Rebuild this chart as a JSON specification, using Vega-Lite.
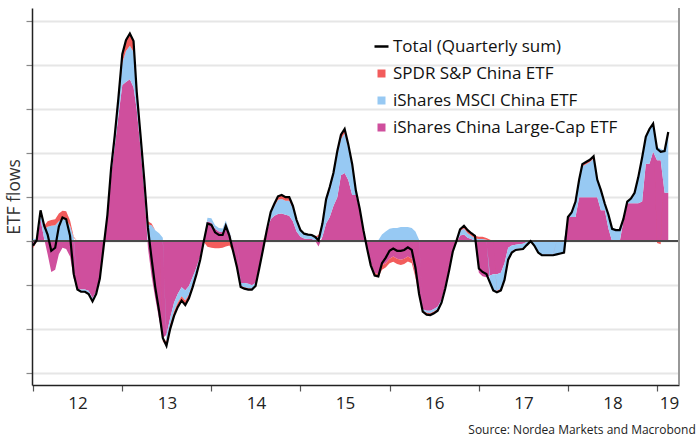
{
  "$schema": "https://vega.github.io/schema/vega-lite/v6.json",
  "width": 647,
  "height": 377,
  "autosize": {"type": "none"},
  "padding": {"left": 32, "top": 8, "right": 19, "bottom": 59},
  "background": "white",
  "config": {"view": {"stroke": null}, "font": "Open Sans"},
  "title": {"text": "Source: Nordea Markets and Macrobond", "orient": "bottom", "anchor": "end", "font": "Open Sans", "fontSize": 12, "fontWeight": "normal", "color": "#222", "offset": 14, "dx": 16},
  "datasets": {
    "flows": [
      {"d": "2012-01-01", "tot": -0.1, "lc": -0.12, "ms": 0.06, "sp": -0.04},
      {"d": "2012-01-16", "tot": 0.02, "lc": 0.0, "ms": 0.04, "sp": -0.02},
      {"d": "2012-02-01", "tot": 0.7, "lc": 0.5, "ms": 0.15, "sp": 0.05},
      {"d": "2012-02-16", "tot": 0.35, "lc": 0.05, "ms": 0.22, "sp": 0.08},
      {"d": "2012-03-01", "tot": 0.15, "lc": -0.3, "ms": 0.33, "sp": 0.12},
      {"d": "2012-03-16", "tot": -0.22, "lc": -0.7, "ms": 0.35, "sp": 0.13},
      {"d": "2012-04-01", "tot": -0.15, "lc": -0.65, "ms": 0.36, "sp": 0.14},
      {"d": "2012-04-16", "tot": 0.33, "lc": -0.3, "ms": 0.45, "sp": 0.18},
      {"d": "2012-05-01", "tot": 0.54, "lc": -0.15, "ms": 0.5, "sp": 0.19},
      {"d": "2012-05-16", "tot": 0.5, "lc": -0.18, "ms": 0.5, "sp": 0.18},
      {"d": "2012-06-01", "tot": 0.12, "lc": -0.35, "ms": 0.35, "sp": 0.12},
      {"d": "2012-06-16", "tot": -0.75, "lc": -0.85, "ms": 0.08, "sp": 0.02},
      {"d": "2012-07-01", "tot": -1.1, "lc": -1.08, "ms": -0.02, "sp": 0},
      {"d": "2012-07-16", "tot": -1.15, "lc": -1.1, "ms": -0.04, "sp": -0.01},
      {"d": "2012-08-01", "tot": -1.15, "lc": -1.1, "ms": -0.04, "sp": -0.01},
      {"d": "2012-08-16", "tot": -1.2, "lc": -1.13, "ms": -0.05, "sp": -0.02},
      {"d": "2012-09-01", "tot": -1.37, "lc": -1.3, "ms": -0.05, "sp": -0.02},
      {"d": "2012-09-16", "tot": -1.2, "lc": -1.15, "ms": -0.04, "sp": -0.01},
      {"d": "2012-10-01", "tot": -0.85, "lc": -0.82, "ms": -0.03, "sp": 0},
      {"d": "2012-10-16", "tot": -0.15, "lc": -0.13, "ms": -0.02, "sp": 0},
      {"d": "2012-11-01", "tot": 0.6, "lc": 0.55, "ms": 0.04, "sp": 0.01},
      {"d": "2012-11-16", "tot": 1.65, "lc": 1.5, "ms": 0.12, "sp": 0.03},
      {"d": "2012-12-01", "tot": 2.4, "lc": 2.15, "ms": 0.2, "sp": 0.05},
      {"d": "2012-12-16", "tot": 3.25, "lc": 2.85, "ms": 0.3, "sp": 0.1},
      {"d": "2013-01-01", "tot": 4.25, "lc": 3.55, "ms": 0.5, "sp": 0.2},
      {"d": "2013-01-16", "tot": 4.57, "lc": 3.62, "ms": 0.7, "sp": 0.25},
      {"d": "2013-02-01", "tot": 4.72, "lc": 3.68, "ms": 0.76, "sp": 0.28},
      {"d": "2013-02-16", "tot": 4.55, "lc": 3.5, "ms": 0.8, "sp": 0.25},
      {"d": "2013-03-01", "tot": 3.4, "lc": 3.0, "ms": 0.32, "sp": 0.08},
      {"d": "2013-03-16", "tot": 2.45, "lc": 2.15, "ms": 0.25, "sp": 0.05},
      {"d": "2013-04-01", "tot": 1.4, "lc": 1.15, "ms": 0.22, "sp": 0.03},
      {"d": "2013-04-16", "tot": 0.3, "lc": -0.15, "ms": 0.38, "sp": 0.07},
      {"d": "2013-05-01", "tot": -0.4, "lc": -0.8, "ms": 0.36, "sp": 0.04},
      {"d": "2013-05-16", "tot": -1.05, "lc": -1.3, "ms": 0.25, "sp": 0},
      {"d": "2013-06-01", "tot": -1.6, "lc": -1.78, "ms": 0.18, "sp": 0},
      {"d": "2013-06-16", "tot": -2.2, "lc": -2.2, "ms": 0.08, "sp": -0.08},
      {"d": "2013-07-01", "tot": -2.38, "lc": -2.13, "ms": -0.15, "sp": -0.1},
      {"d": "2013-07-16", "tot": -2.0, "lc": -1.75, "ms": -0.15, "sp": -0.1},
      {"d": "2013-08-01", "tot": -1.7, "lc": -1.4, "ms": -0.2, "sp": -0.1},
      {"d": "2013-08-16", "tot": -1.5, "lc": -1.2, "ms": -0.2, "sp": -0.1},
      {"d": "2013-09-01", "tot": -1.35, "lc": -1.05, "ms": -0.2, "sp": -0.1},
      {"d": "2013-09-16", "tot": -1.45, "lc": -1.12, "ms": -0.23, "sp": -0.1},
      {"d": "2013-10-01", "tot": -1.3, "lc": -1.02, "ms": -0.2, "sp": -0.08},
      {"d": "2013-10-16", "tot": -1.05, "lc": -0.82, "ms": -0.16, "sp": -0.07},
      {"d": "2013-11-01", "tot": -0.75, "lc": -0.6, "ms": -0.1, "sp": -0.05},
      {"d": "2013-11-16", "tot": -0.43, "lc": -0.35, "ms": -0.05, "sp": -0.03},
      {"d": "2013-12-01", "tot": 0.0, "lc": 0.02, "ms": 0.0, "sp": -0.02},
      {"d": "2013-12-16", "tot": 0.4, "lc": 0.45, "ms": 0.08, "sp": -0.13},
      {"d": "2014-01-01", "tot": 0.37, "lc": 0.42, "ms": 0.1, "sp": -0.15},
      {"d": "2014-01-16", "tot": 0.2, "lc": 0.28, "ms": 0.08, "sp": -0.16},
      {"d": "2014-02-01", "tot": 0.14, "lc": 0.22, "ms": 0.08, "sp": -0.16},
      {"d": "2014-02-16", "tot": 0.14, "lc": 0.2, "ms": 0.09, "sp": -0.15},
      {"d": "2014-03-01", "tot": 0.35, "lc": 0.4, "ms": 0.07, "sp": -0.12},
      {"d": "2014-03-16", "tot": 0.12, "lc": 0.2, "ms": 0.02, "sp": -0.1},
      {"d": "2014-04-01", "tot": -0.25, "lc": -0.2, "ms": 0, "sp": -0.05},
      {"d": "2014-04-16", "tot": -0.6, "lc": -0.58, "ms": 0, "sp": -0.02},
      {"d": "2014-05-01", "tot": -1.04, "lc": -0.95, "ms": -0.07, "sp": -0.02},
      {"d": "2014-05-16", "tot": -1.08, "lc": -0.95, "ms": -0.1, "sp": -0.03},
      {"d": "2014-06-01", "tot": -1.1, "lc": -0.97, "ms": -0.1, "sp": -0.03},
      {"d": "2014-06-16", "tot": -1.1, "lc": -1.0, "ms": -0.08, "sp": -0.02},
      {"d": "2014-07-01", "tot": -1.02, "lc": -0.95, "ms": -0.05, "sp": -0.02},
      {"d": "2014-07-16", "tot": -0.62, "lc": -0.6, "ms": -0.02, "sp": 0},
      {"d": "2014-08-01", "tot": -0.18, "lc": -0.2, "ms": 0, "sp": 0.02},
      {"d": "2014-08-16", "tot": 0.25, "lc": 0.22, "ms": 0.03, "sp": 0.0},
      {"d": "2014-09-01", "tot": 0.66, "lc": 0.5, "ms": 0.13, "sp": 0.03},
      {"d": "2014-09-16", "tot": 0.85, "lc": 0.58, "ms": 0.22, "sp": 0.05},
      {"d": "2014-10-01", "tot": 1.02, "lc": 0.62, "ms": 0.32, "sp": 0.08},
      {"d": "2014-10-16", "tot": 1.05, "lc": 0.63, "ms": 0.33, "sp": 0.09},
      {"d": "2014-11-01", "tot": 1.0, "lc": 0.6, "ms": 0.32, "sp": 0.08},
      {"d": "2014-11-16", "tot": 1.0, "lc": 0.58, "ms": 0.34, "sp": 0.08},
      {"d": "2014-12-01", "tot": 0.8, "lc": 0.45, "ms": 0.3, "sp": 0.05},
      {"d": "2014-12-16", "tot": 0.48, "lc": 0.22, "ms": 0.23, "sp": 0.03},
      {"d": "2015-01-01", "tot": 0.25, "lc": 0.1, "ms": 0.13, "sp": 0.02},
      {"d": "2015-01-16", "tot": 0.17, "lc": 0.06, "ms": 0.1, "sp": 0.01},
      {"d": "2015-02-01", "tot": 0.15, "lc": 0.05, "ms": 0.09, "sp": 0.01},
      {"d": "2015-02-16", "tot": 0.14, "lc": 0.05, "ms": 0.08, "sp": 0.01},
      {"d": "2015-03-01", "tot": 0.1, "lc": 0.02, "ms": 0.07, "sp": 0.01},
      {"d": "2015-03-16", "tot": 0.02, "lc": -0.12, "ms": 0.1, "sp": 0.04},
      {"d": "2015-04-01", "tot": 0.4, "lc": 0.1, "ms": 0.25, "sp": 0.05},
      {"d": "2015-04-16", "tot": 0.95, "lc": 0.4, "ms": 0.5, "sp": 0.05},
      {"d": "2015-05-01", "tot": 1.23, "lc": 0.55, "ms": 0.62, "sp": 0.06},
      {"d": "2015-05-16", "tot": 1.55, "lc": 0.8, "ms": 0.68, "sp": 0.07},
      {"d": "2015-06-01", "tot": 2.05, "lc": 1.0, "ms": 0.97, "sp": 0.08},
      {"d": "2015-06-16", "tot": 2.42, "lc": 1.5, "ms": 0.82, "sp": 0.1},
      {"d": "2015-07-01", "tot": 2.55, "lc": 1.55, "ms": 0.9, "sp": 0.1},
      {"d": "2015-07-16", "tot": 2.2, "lc": 1.39, "ms": 0.74, "sp": 0.07},
      {"d": "2015-08-01", "tot": 1.75, "lc": 1.05, "ms": 0.65, "sp": 0.05},
      {"d": "2015-08-16", "tot": 1.15, "lc": 1.05, "ms": 0.08, "sp": 0.02},
      {"d": "2015-09-01", "tot": 0.73, "lc": 0.7, "ms": 0.03, "sp": 0},
      {"d": "2015-09-16", "tot": 0.25, "lc": 0.25, "ms": 0, "sp": 0},
      {"d": "2015-10-01", "tot": -0.17, "lc": -0.15, "ms": 0, "sp": -0.02},
      {"d": "2015-10-16", "tot": -0.55, "lc": -0.5, "ms": 0, "sp": -0.05},
      {"d": "2015-11-01", "tot": -0.78, "lc": -0.72, "ms": 0, "sp": -0.06},
      {"d": "2015-11-16", "tot": -0.8, "lc": -0.75, "ms": 0.02, "sp": -0.07},
      {"d": "2015-12-01", "tot": -0.5, "lc": -0.55, "ms": 0.15, "sp": -0.1},
      {"d": "2015-12-16", "tot": -0.38, "lc": -0.5, "ms": 0.22, "sp": -0.1},
      {"d": "2016-01-01", "tot": -0.22, "lc": -0.4, "ms": 0.28, "sp": -0.1},
      {"d": "2016-01-16", "tot": -0.17, "lc": -0.35, "ms": 0.3, "sp": -0.12},
      {"d": "2016-02-01", "tot": -0.22, "lc": -0.4, "ms": 0.3, "sp": -0.12},
      {"d": "2016-02-16", "tot": -0.22, "lc": -0.42, "ms": 0.32, "sp": -0.12},
      {"d": "2016-03-01", "tot": -0.2, "lc": -0.4, "ms": 0.32, "sp": -0.12},
      {"d": "2016-03-16", "tot": -0.14, "lc": -0.35, "ms": 0.32, "sp": -0.11},
      {"d": "2016-04-01", "tot": -0.2, "lc": -0.4, "ms": 0.3, "sp": -0.1},
      {"d": "2016-04-16", "tot": -0.6, "lc": -0.75, "ms": 0.22, "sp": -0.07},
      {"d": "2016-05-01", "tot": -1.2, "lc": -1.2, "ms": 0.03, "sp": -0.03},
      {"d": "2016-05-16", "tot": -1.6, "lc": -1.55, "ms": -0.03, "sp": -0.02},
      {"d": "2016-06-01", "tot": -1.67, "lc": -1.58, "ms": -0.05, "sp": -0.04},
      {"d": "2016-06-16", "tot": -1.68, "lc": -1.58, "ms": -0.06, "sp": -0.04},
      {"d": "2016-07-01", "tot": -1.64, "lc": -1.54, "ms": -0.06, "sp": -0.04},
      {"d": "2016-07-16", "tot": -1.58, "lc": -1.49, "ms": -0.05, "sp": -0.04},
      {"d": "2016-08-01", "tot": -1.4, "lc": -1.33, "ms": -0.04, "sp": -0.03},
      {"d": "2016-08-16", "tot": -1.08, "lc": -1.03, "ms": -0.03, "sp": -0.02},
      {"d": "2016-09-01", "tot": -0.67, "lc": -0.64, "ms": -0.02, "sp": -0.01},
      {"d": "2016-09-16", "tot": -0.24, "lc": -0.23, "ms": 0, "sp": -0.01},
      {"d": "2016-10-01", "tot": 0.0, "lc": -0.05, "ms": 0.03, "sp": 0.02},
      {"d": "2016-10-16", "tot": 0.27, "lc": 0.13, "ms": 0.1, "sp": 0.04},
      {"d": "2016-11-01", "tot": 0.35, "lc": 0.15, "ms": 0.14, "sp": 0.06},
      {"d": "2016-11-16", "tot": 0.25, "lc": 0.08, "ms": 0.1, "sp": 0.07},
      {"d": "2016-12-01", "tot": 0.18, "lc": 0.05, "ms": 0.07, "sp": 0.06},
      {"d": "2016-12-16", "tot": 0.12, "lc": 0.01, "ms": 0.05, "sp": 0.06},
      {"d": "2017-01-01", "tot": -0.62, "lc": -0.72, "ms": 0.05, "sp": 0.05},
      {"d": "2017-01-16", "tot": -0.7, "lc": -0.8, "ms": 0.05, "sp": 0.05},
      {"d": "2017-02-01", "tot": -0.75, "lc": -0.82, "ms": 0.03, "sp": 0.04},
      {"d": "2017-02-16", "tot": -0.95, "lc": -0.78, "ms": -0.2, "sp": 0.03},
      {"d": "2017-03-01", "tot": -1.12, "lc": -0.75, "ms": -0.38, "sp": 0.01},
      {"d": "2017-03-16", "tot": -1.16, "lc": -0.75, "ms": -0.38, "sp": -0.03},
      {"d": "2017-04-01", "tot": -1.12, "lc": -0.72, "ms": -0.36, "sp": -0.04},
      {"d": "2017-04-16", "tot": -0.88, "lc": -0.5, "ms": -0.35, "sp": -0.03},
      {"d": "2017-05-01", "tot": -0.42, "lc": -0.15, "ms": -0.25, "sp": -0.02},
      {"d": "2017-05-16", "tot": -0.26, "lc": -0.1, "ms": -0.13, "sp": -0.03},
      {"d": "2017-06-01", "tot": -0.2, "lc": -0.08, "ms": -0.1, "sp": -0.02},
      {"d": "2017-06-16", "tot": -0.19, "lc": -0.07, "ms": -0.1, "sp": -0.02},
      {"d": "2017-07-01", "tot": -0.18, "lc": -0.06, "ms": -0.1, "sp": -0.02},
      {"d": "2017-07-16", "tot": -0.09, "lc": -0.02, "ms": -0.06, "sp": -0.01},
      {"d": "2017-08-01", "tot": 0.0, "lc": 0.0, "ms": 0.02, "sp": -0.02},
      {"d": "2017-08-16", "tot": -0.1, "lc": -0.02, "ms": -0.07, "sp": -0.01},
      {"d": "2017-09-01", "tot": -0.26, "lc": -0.02, "ms": -0.23, "sp": -0.01},
      {"d": "2017-09-16", "tot": -0.32, "lc": -0.01, "ms": -0.3, "sp": -0.01},
      {"d": "2017-10-01", "tot": -0.32, "lc": 0, "ms": -0.31, "sp": -0.01},
      {"d": "2017-10-16", "tot": -0.32, "lc": 0, "ms": -0.31, "sp": -0.01},
      {"d": "2017-11-01", "tot": -0.32, "lc": 0, "ms": -0.31, "sp": -0.01},
      {"d": "2017-11-16", "tot": -0.3, "lc": 0, "ms": -0.3, "sp": 0},
      {"d": "2017-12-01", "tot": -0.28, "lc": 0, "ms": -0.28, "sp": 0},
      {"d": "2017-12-16", "tot": -0.26, "lc": 0, "ms": -0.26, "sp": 0},
      {"d": "2018-01-01", "tot": 0.55, "lc": 0.55, "ms": 0, "sp": 0},
      {"d": "2018-01-16", "tot": 0.65, "lc": 0.55, "ms": 0.1, "sp": 0},
      {"d": "2018-02-01", "tot": 0.9, "lc": 0.55, "ms": 0.33, "sp": 0.02},
      {"d": "2018-02-16", "tot": 1.4, "lc": 1.0, "ms": 0.37, "sp": 0.03},
      {"d": "2018-03-01", "tot": 1.75, "lc": 1.0, "ms": 0.7, "sp": 0.05},
      {"d": "2018-03-16", "tot": 1.8, "lc": 1.0, "ms": 0.75, "sp": 0.05},
      {"d": "2018-04-01", "tot": 1.85, "lc": 1.0, "ms": 0.8, "sp": 0.05},
      {"d": "2018-04-16", "tot": 1.93, "lc": 1.0, "ms": 0.88, "sp": 0.05},
      {"d": "2018-05-01", "tot": 1.4, "lc": 1.0, "ms": 0.37, "sp": 0.03},
      {"d": "2018-05-16", "tot": 1.16, "lc": 0.7, "ms": 0.44, "sp": 0.02},
      {"d": "2018-06-01", "tot": 0.85, "lc": 0.7, "ms": 0.14, "sp": 0.01},
      {"d": "2018-06-16", "tot": 0.6, "lc": 0.28, "ms": 0.31, "sp": 0.01},
      {"d": "2018-07-01", "tot": 0.28, "lc": 0.0, "ms": 0.28, "sp": 0},
      {"d": "2018-07-16", "tot": 0.25, "lc": -0.02, "ms": 0.27, "sp": 0},
      {"d": "2018-08-01", "tot": 0.25, "lc": -0.02, "ms": 0.27, "sp": 0},
      {"d": "2018-08-16", "tot": 0.5, "lc": 0.45, "ms": 0.05, "sp": 0},
      {"d": "2018-09-01", "tot": 0.9, "lc": 0.86, "ms": 0.04, "sp": 0},
      {"d": "2018-09-16", "tot": 0.97, "lc": 0.86, "ms": 0.11, "sp": 0},
      {"d": "2018-10-01", "tot": 1.1, "lc": 0.86, "ms": 0.24, "sp": 0},
      {"d": "2018-10-16", "tot": 1.45, "lc": 0.86, "ms": 0.59, "sp": 0},
      {"d": "2018-11-01", "tot": 1.9, "lc": 0.9, "ms": 1.0, "sp": 0},
      {"d": "2018-11-16", "tot": 2.37, "lc": 1.76, "ms": 0.61, "sp": 0},
      {"d": "2018-12-01", "tot": 2.55, "lc": 1.76, "ms": 0.79, "sp": 0},
      {"d": "2018-12-16", "tot": 2.67, "lc": 2.03, "ms": 0.64, "sp": 0},
      {"d": "2019-01-01", "tot": 2.1, "lc": 1.84, "ms": 0.3, "sp": -0.04},
      {"d": "2019-01-16", "tot": 2.03, "lc": 1.84, "ms": 0.26, "sp": -0.07},
      {"d": "2019-02-01", "tot": 2.05, "lc": 1.1, "ms": 0.95, "sp": 0},
      {"d": "2019-02-16", "tot": 2.48, "lc": 1.1, "ms": 1.3, "sp": 0.08}
    ]
  },
  "data": {"name": "flows"},
  "layer": [
    {
      "transform": [{"fold": ["lc", "ms", "sp"], "as": ["key", "value"]}],
      "mark": {"type": "area", "interpolate": "linear"},
      "encoding": {
        "x": {
          "field": "d", "type": "temporal",
          "scale": {"type": "utc", "domain": [{"year": 2011, "month": 12, "date": 28, "utc": true}, {"year": 2019, "month": 4, "date": 1, "utc": true}]},
          "axis": {
            "title": null, "grid": false,
            "tickCount": {"interval": "year", "step": 1},
            "domainColor": "#222", "domainWidth": 1.5,
            "tickColor": "#555", "tickSize": 6, "tickWidth": 1.2,
            "labelExpr": "utcFormat(datum.value, '%y')",
            "labelFont": "Open Sans", "labelFontSize": 17, "labelColor": "#222",
            "labelPadding": 4, "labelFlush": false, "labelOverlap": false, "labelAlign": "center",
            "labelOffset": {"condition": {"test": "utcyear(datum.value) == 2019", "value": 12}, "value": 44.6}
          }
        },
        "y": {
          "field": "value", "type": "quantitative", "stack": "zero",
          "scale": {"domain": [-3.27, 5.3], "nice": false, "zero": false},
          "axis": {
            "title": "ETF flows", "values": [-3, -2, -1, 0, 1, 2, 3, 4, 5], "labels": false,
            "grid": true, "gridColor": "#e6e6e6", "gridWidth": 2,
            "domainColor": "#222", "domainWidth": 1.5,
            "tickColor": "#888", "tickSize": 6, "tickWidth": 1.2,
            "titleFont": "Open Sans", "titleFontSize": 17.5, "titleFontWeight": "normal", "titleColor": "#333", "titlePadding": 2
          }
        },
        "color": {
          "field": "key", "type": "nominal",
          "scale": {"domain": ["tot", "sp", "ms", "lc"], "range": ["#000000", "#F25C5C", "#97C9F3", "#CF4F9D"]},
          "legend": {
            "title": null, "orient": "none", "legendX": 341, "legendY": 30, "padding": 0,
            "labelFont": "Open Sans", "labelFontSize": 17, "labelColor": "#111", "rowPadding": 9,
            "labelLimit": 0,
            "symbolSize": 64, "labelOffset": 3,
            "labelExpr": "datum.value === 'tot' ? '\u00a0Total (Quarterly sum)' : datum.value === 'sp' ? 'SPDR S&P China ETF' : datum.value === 'ms' ? 'iShares MSCI China ETF' : '\u00a0iShares China Large-Cap ETF'",
            "encode": {
              "symbols": {
                "update": {
                  "shape": {"signal": "datum.value === 'tot' ? 'stroke' : 'square'"},
                  "size": {"signal": "datum.value === 'tot' ? 196 : 64"},
                  "strokeWidth": {"signal": "datum.value === 'tot' ? 2.5 : 0"},
                  "stroke": {"signal": "datum.value === 'tot' ? '#000000' : 'transparent'"},
                  "fill": {"signal": "scale('color', datum.value)"},
                  "opacity": {"value": 1}
                }
              }
            }
          }
        },
        "order": {"field": "key", "sort": "ascending"}
      }
    },
    {
      "mark": {"type": "rule", "color": "#4a4a4a", "strokeWidth": 1.5},
      "encoding": {"y": {"datum": 0}}
    },
    {
      "mark": {"type": "rule", "color": "#999999", "strokeWidth": 1.5},
      "encoding": {"x": {"datum": {"year": 2019, "month": 4, "date": 1, "utc": true}, "type": "temporal"}}
    },
    {
      "mark": {"type": "line", "strokeWidth": 2.2, "interpolate": "linear"},
      "encoding": {
        "x": {"field": "d", "type": "temporal"},
        "y": {"field": "tot", "type": "quantitative"},
        "color": {"datum": "tot"}
      }
    }
  ]
}
